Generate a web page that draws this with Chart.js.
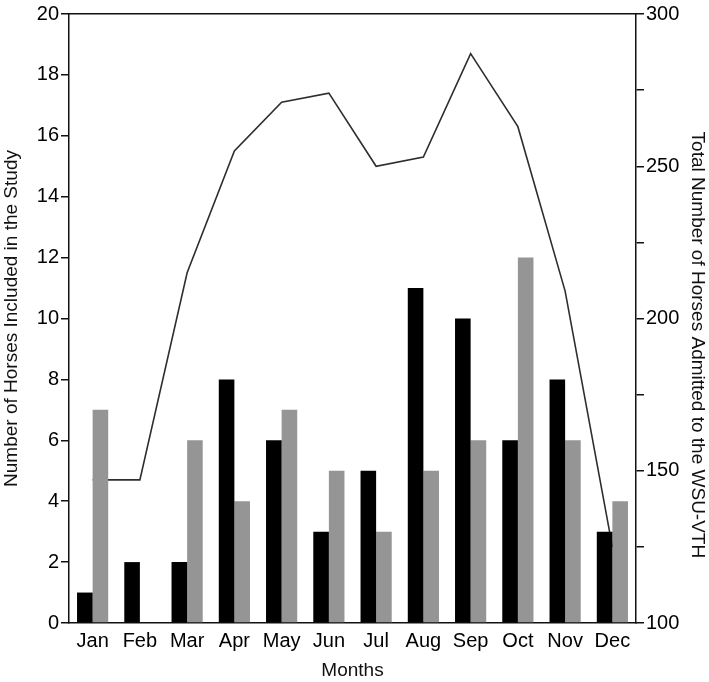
<!DOCTYPE html>
<html>
<head>
<meta charset="utf-8">
<script src="https://cdn.jsdelivr.net/npm/chart.js@4/dist/chart.umd.min.js"></script>
<style>
  body { margin: 0; background: #fff; }
  #wrap { width: 709px; height: 682px; }
</style>
</head>
<body>
<div id="wrap"><canvas id="grafico"></canvas></div>
<script>
// datos
const meses = ['Jan', 'Feb', 'Mar', 'Apr', 'May', 'Jun', 'Jul', 'Aug', 'Sep', 'Oct', 'Nov', 'Dec'];
const serieNegra = [1, 2, 2, 8, 6, 3, 5, 11, 10, 6, 8, 3];
const serieGris = [7, 0, 6, 4, 7, 5, 3, 5, 6, 12, 6, 4];
const totalAdmitidos = [147, 147, 215, 255, 271, 274, 250, 253, 287, 263, 209, 125];

const fuenteTicks = { family: "'Liberation Sans', Arial, sans-serif", size: 20 };
const fuenteTitulo = { family: "'Liberation Sans', Arial, sans-serif", size: 19 };

Chart.defaults.color = '#000';

const config = {
	type: 'bar',
	data: {
		labels: meses,
		datasets: [
			{ label: 'Study A', data: serieNegra, backgroundColor: '#000000', order: 1 },
			{ label: 'Study B', data: serieGris, backgroundColor: '#959595', order: 1 },
			{
				type: 'line', label: 'Admitted', data: totalAdmitidos, yAxisID: 'y1',
				borderColor: '#2e2e2e', borderWidth: 1.6, pointRadius: 0, tension: 0,
				fill: false, order: 2 // se dibuja detras de las barras
			}
		]
	},
	options: {
		responsive: true,
		maintainAspectRatio: false,
		animation: false,
		layout: { padding: 0 },
		plugins: { legend: { display: false }, tooltip: { enabled: false } },
		datasets: { bar: { barPercentage: 1, categoryPercentage: 0.66 } },
		scales: {
			x: {
				position: 'bottom',
				grid: { display: false, drawTicks: false },
				border: { display: true, color: '#111', width: 1.5 },
				ticks: { font: fuenteTicks, padding: 6, color: '#000', maxRotation: 0, autoSkip: false },
				title: { display: true, text: 'Months', font: fuenteTitulo, padding: 0, color: '#111' },
				afterFit: s => { s.height = 59; }
			},
			x2: {
				position: 'top',
				grid: { display: false, drawTicks: false },
				border: { display: true, color: '#111', width: 1.5 },
				ticks: { display: false },
				afterFit: s => { s.height = 13; }
			},
			y: {
				position: 'left',
				min: 0, max: 20,
				ticks: { stepSize: 2, font: fuenteTicks, padding: 2, color: '#000' },
				grid: { display: true, drawOnChartArea: false, tickLength: 8, color: '#111', lineWidth: 1.5 },
				border: { display: true, color: '#111', width: 1.5 },
				title: { display: true, text: 'Number of Horses Included in the Study', font: fuenteTitulo, padding: 0, color: '#111' },
				afterFit: s => { s.width = 69; }
			},
			y1: {
				position: 'right',
				min: 100, max: 300,
				ticks: {
					stepSize: 25, font: fuenteTicks, padding: 2, color: '#000',
					callback: v => (v % 50 === 0 ? v : '')
				},
				grid: { display: true, drawOnChartArea: false, tickLength: 8, color: '#111', lineWidth: 1.5 },
				border: { display: true, color: '#111', width: 1.5 },
				// espacios al inicio para bajar un poco el titulo como en el original
				title: { display: true, text: '          Total Number of Horses Admitted to the WSU-VTH', font: fuenteTitulo, padding: 0, color: '#111' },
				afterFit: s => { s.width = 73; }
			}
		}
	}
};

new Chart(document.querySelector('#grafico'), config);
</script>
</body>
</html>
